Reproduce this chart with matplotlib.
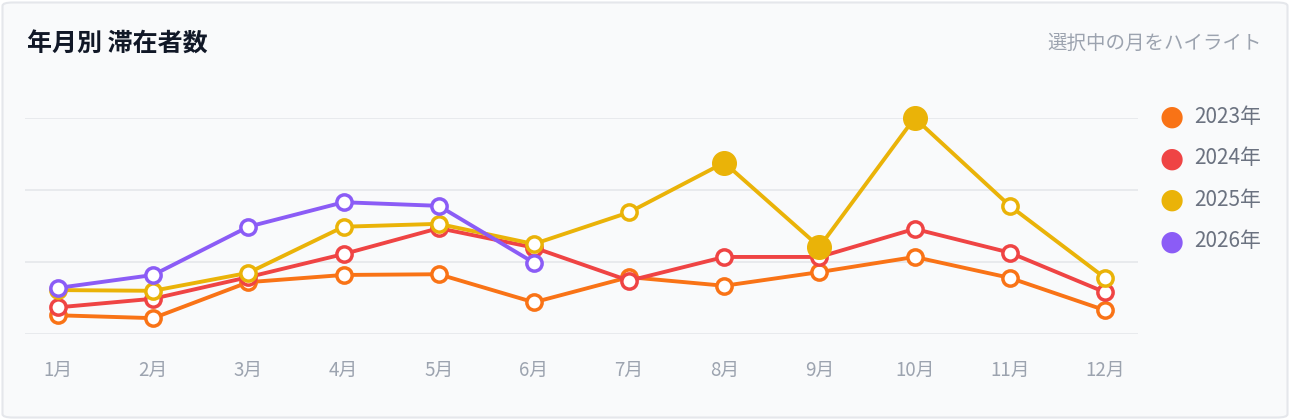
import matplotlib
matplotlib.use("Agg")
import matplotlib.pyplot as plt
from matplotlib.patches import FancyBboxPatch

plt.rcParams['font.family'] = ['Noto Sans CJK JP', 'DejaVu Sans']

# データ
months = ['1月', '2月', '3月', '4月', '5月', '6月', '7月', '8月', '9月', '10月', '11月', '12月']
years = ['2023年', '2024年', '2025年', '2026年']
colors = ['#f97316', '#ef4444', '#eab308', '#8b5cf6']

v2023 = [26, 22, 72, 82, 83, 44, 79, 67, 86, 107, 78, 33]
v2024 = [37, 49, 79, 111, 147, 120, 74, 107, 107, 146, 113, 58]
v2025 = [61, 60, 85, 149, 153, 125, 169, 238, 121, 300, 178, 78]
v2026 = [64, 82, 149, 183, 178, 99]
series = [v2023, v2024, v2025, v2026]

# ハイライトされた月 (2025年)
highlight_year = 2
highlight_months = [7, 8, 9]

W, H = 1290, 420
fig = plt.figure(figsize=(W / 100, H / 100), dpi=100)
fig.patch.set_facecolor('white')

# カード背景
card = FancyBboxPatch((2.5 / W, 2.5 / H), (W - 5) / W, (H - 5) / H,
                      boxstyle="round,pad=0,rounding_size=0.008",
                      transform=fig.transFigure, facecolor='#f9fafb',
                      edgecolor='#e5e7eb', linewidth=1.5, zorder=-10)
fig.patches.append(card)

fig.text(27 / W, 1 - 45 / H, '年月別 滞在者数', fontsize=18, fontweight='bold',
         color='#111827', va='center', ha='left')
fig.text(1262 / W, 1 - 43 / H, '選択中の月をハイライト', fontsize=14,
         color='#9ca3af', va='center', ha='right')

left, right = 25, 1138
top, bottom = 118, 334
ax = fig.add_axes([left / W, 1 - bottom / H, (right - left) / W, (bottom - top) / H])
ax.set_facecolor('none')
ax.set_zorder(5)
ax.set_xlim(-0.347, 11.347)
ax.set_ylim(0, 300)
ax.set_yticks([0, 100, 200, 300])
ax.yaxis.grid(True, color='#e5e7eb', linewidth=1.2)
ax.set_axisbelow(True)
ax.tick_params(axis='y', left=False, labelleft=False)
ax.set_xticks(range(12))
ax.set_xticklabels(months, fontsize=13.5, color='#9ca3af')
ax.tick_params(axis='x', length=0, pad=19)
for s in ax.spines.values():
    s.set_visible(False)

for i, (vals, c) in enumerate(zip(series, colors)):
    x = list(range(len(vals)))
    ax.plot(x, vals, color=c, linewidth=2.8, marker='o', markersize=11,
            markerfacecolor='white', markeredgecolor=c, markeredgewidth=2.5,
            zorder=3 + i, clip_on=False)
    if i == highlight_year:
        hx = highlight_months
        hy = [vals[m] for m in hx]
        ax.plot(hx, hy, linestyle='none', marker='o', markersize=17,
                color=c, zorder=10, clip_on=False)

# 凡例
for i, (name, c) in enumerate(zip(years, colors)):
    y = 117 + i * 41.5
    fig.text(1172 / W, 1 - y / H, '●', fontsize=20, color=c,
             ha='center', va='center', family=['DejaVu Sans'])
    fig.text(1194 / W, 1 - y / H, name, fontsize=15, color='#6b7280',
             ha='left', va='center')

fig.savefig('out.png', dpi=100, facecolor='white')
